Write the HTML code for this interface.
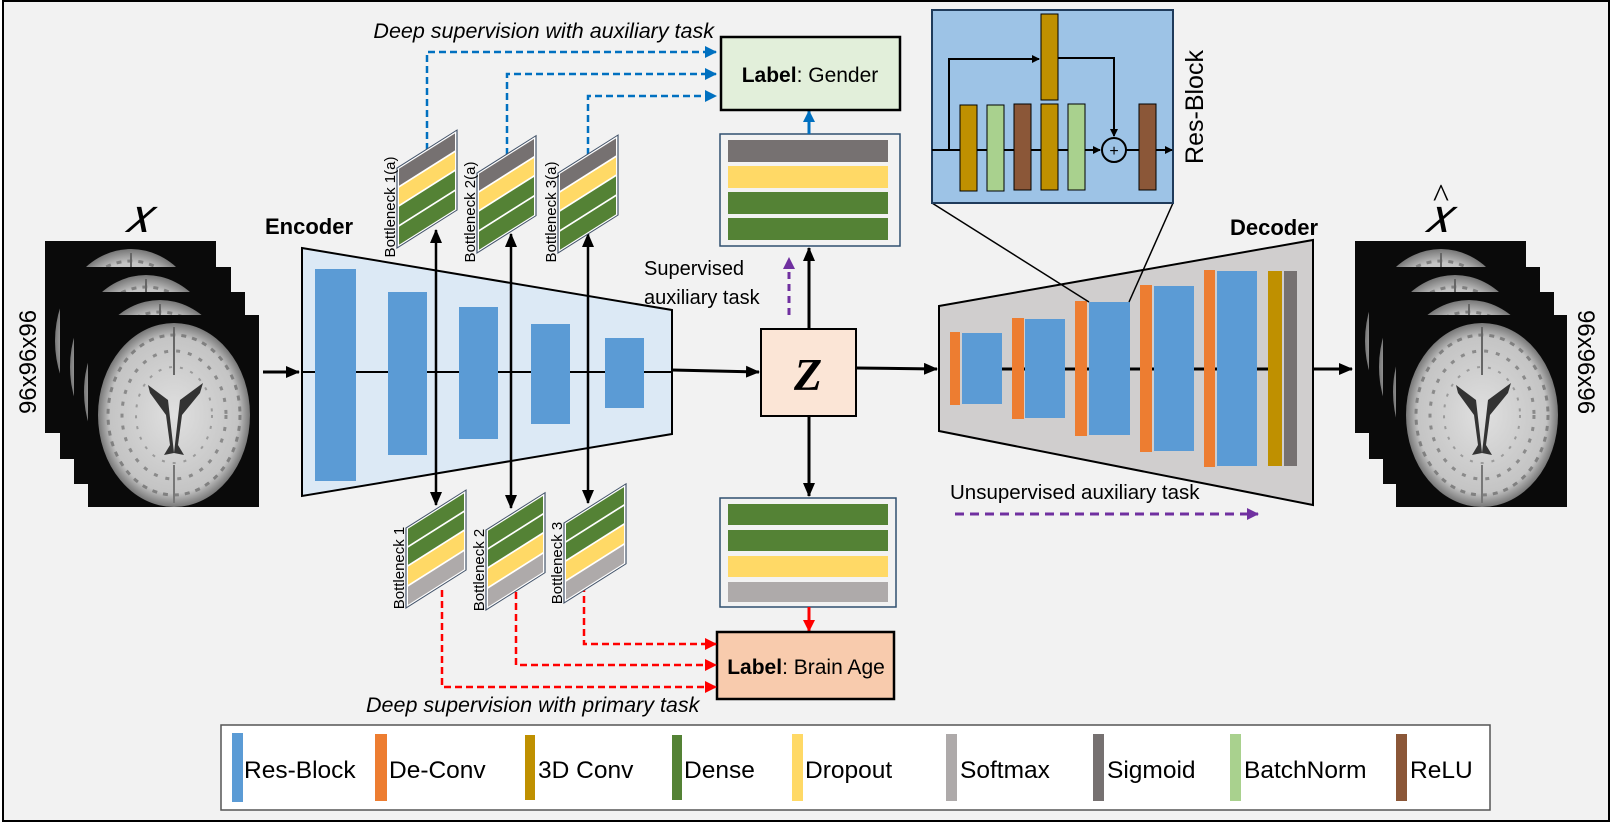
<!DOCTYPE html>
<html><head><meta charset="utf-8"><style>
html,body{margin:0;padding:0;background:#fff;}
svg{display:block;font-family:"Liberation Sans",sans-serif;}
</style></head><body>
<svg width="1613" height="824" viewBox="0 0 1613 824" xmlns="http://www.w3.org/2000/svg">
<defs>
<marker id="ab" markerWidth="8" markerHeight="8" refX="7" refY="4" orient="auto" markerUnits="userSpaceOnUse"><path d="M0,0 L8,4 L0,8 z" fill="#000"/></marker>
<marker id="abL" markerWidth="14" markerHeight="12" refX="13" refY="6" orient="auto-start-reverse" markerUnits="userSpaceOnUse"><path d="M0,0 L14,6 L0,12 z" fill="#000"/></marker>
<marker id="abl" markerWidth="12" markerHeight="12" refX="11" refY="6" orient="auto" markerUnits="userSpaceOnUse"><path d="M0,0 L12,6 L0,12 z" fill="#0070c0"/></marker>
<marker id="rd" markerWidth="12" markerHeight="12" refX="11" refY="6" orient="auto" markerUnits="userSpaceOnUse"><path d="M0,0 L12,6 L0,12 z" fill="#ff0000"/></marker>
<marker id="pp" markerWidth="12" markerHeight="12" refX="11" refY="6" orient="auto" markerUnits="userSpaceOnUse"><path d="M0,0 L12,6 L0,12 z" fill="#7030a0"/></marker>
<radialGradient id="br" cx="50%" cy="50%" r="50%"><stop offset="0" stop-color="#e0e0e0"/><stop offset="0.85" stop-color="#c4c4c4"/><stop offset="1" stop-color="#777"/></radialGradient>
<g id="brain">
<rect x="0" y="0" width="171" height="192" fill="#0a0a0a"/>
<ellipse cx="86" cy="100" rx="76" ry="92" fill="url(#br)"/>
<ellipse cx="86" cy="100" rx="66" ry="80" fill="none" stroke="#808080" stroke-width="3" stroke-dasharray="5 6"/>
<ellipse cx="86" cy="100" rx="52" ry="64" fill="none" stroke="#8a8a8a" stroke-width="3" stroke-dasharray="4 8"/>
<ellipse cx="86" cy="100" rx="38" ry="48" fill="none" stroke="#9a9a9a" stroke-width="2" stroke-dasharray="3 8"/>
<path d="M86,12 L86,60" stroke="#666" stroke-width="2"/>
<path d="M80,85 L60,70 L62,78 L78,100 L82,130 L76,140 L86,138 Z" fill="#333"/>
<path d="M92,85 L115,68 L112,78 L94,100 L90,130 L96,140 L86,138 Z" fill="#333"/>
<path d="M86,150 L86,188" stroke="#777" stroke-width="2"/>
</g>
</defs>
<rect x="0" y="0" width="1613" height="824" fill="#fff"/>
<rect x="3" y="1" width="1606" height="820" fill="#f2f2f2" stroke="#000" stroke-width="2"/>

<!-- Input brains -->
<use href="#brain" x="45" y="241"/>
<use href="#brain" x="60" y="267"/>
<use href="#brain" x="74" y="292"/>
<use href="#brain" x="88" y="315"/>
<text x="138" y="232" font-family="Liberation Serif,serif" font-style="italic" font-size="48" text-anchor="middle">𝑥</text>
<text transform="translate(36,362) rotate(-90)" font-size="24" text-anchor="middle">96x96x96</text>

<!-- Output brains -->
<use href="#brain" x="1355" y="241"/>
<use href="#brain" x="1369" y="267"/>
<use href="#brain" x="1383" y="292"/>
<use href="#brain" x="1396" y="315"/>
<text x="1438" y="232" font-family="Liberation Serif,serif" font-style="italic" font-size="48" text-anchor="middle">𝑥</text>
<text x="1441" y="207" font-family="Liberation Serif,serif" font-size="34" text-anchor="middle">^</text>
<text transform="translate(1578,362) rotate(90)" font-size="24" text-anchor="middle">96x96x96</text>

<line x1="263" y1="372" x2="299" y2="372" stroke="#000" stroke-width="3" marker-end="url(#abL)"/>

<!-- Encoder -->
<text x="265" y="234" font-size="22" font-weight="bold">Encoder</text>
<polygon points="302,248 672,310 672,434 302,496" fill="#dce9f5" stroke="#000" stroke-width="2"/>
<line x1="302" y1="372" x2="672" y2="372" stroke="#000" stroke-width="2"/>
<rect x="315" y="269" width="41" height="212" fill="#5b9bd5"/>
<rect x="388" y="292" width="39" height="163" fill="#5b9bd5"/>
<rect x="459" y="307" width="39" height="132" fill="#5b9bd5"/>
<rect x="531" y="324" width="39" height="100" fill="#5b9bd5"/>
<rect x="605" y="338" width="39" height="70" fill="#5b9bd5"/>

<line x1="672" y1="370" x2="759" y2="372" stroke="#000" stroke-width="3" marker-end="url(#abL)"/>

<!-- Z -->
<rect x="761" y="329" width="95" height="87" fill="#fbe5d6" stroke="#000" stroke-width="2"/>
<text x="808" y="390" font-family="Liberation Serif,serif" font-style="italic" font-weight="bold" font-size="46" text-anchor="middle">Z</text>
<line x1="856" y1="368" x2="937" y2="369" stroke="#000" stroke-width="3" marker-end="url(#abL)"/>
<line x1="809" y1="329" x2="809" y2="248" stroke="#000" stroke-width="3" marker-end="url(#abL)"/>
<line x1="809" y1="416" x2="809" y2="496" stroke="#000" stroke-width="3" marker-end="url(#abL)"/>

<!-- top feature box -->
<rect x="720" y="134" width="180" height="112" fill="#f2f2f2" stroke="#2f4f6f" stroke-width="1.5"/>
<rect x="728" y="140" width="160" height="22" fill="#767171"/>
<rect x="728" y="166" width="160" height="22" fill="#ffd966"/>
<rect x="728" y="192" width="160" height="22" fill="#548235"/>
<rect x="728" y="218" width="160" height="22" fill="#548235"/>
<line x1="809" y1="134" x2="809" y2="111" stroke="#0070c0" stroke-width="3" marker-end="url(#abl)"/>
<rect x="721" y="37" width="179" height="73" fill="#e2efda" stroke="#000" stroke-width="2.5"/>
<text x="810" y="82" font-size="21" text-anchor="middle"><tspan font-weight="bold">Label</tspan>: Gender</text>

<!-- bottom feature box -->
<rect x="720" y="498" width="176" height="109" fill="#f2f2f2" stroke="#2f4f6f" stroke-width="1.5"/>
<rect x="728" y="504" width="160" height="21" fill="#548235"/>
<rect x="728" y="530" width="160" height="21" fill="#548235"/>
<rect x="728" y="556" width="160" height="21" fill="#ffd966"/>
<rect x="728" y="582" width="160" height="20" fill="#aeaaaa"/>
<line x1="809" y1="607" x2="809" y2="631" stroke="#ff0000" stroke-width="3" marker-end="url(#rd)"/>
<rect x="717" y="632" width="177" height="67" fill="#f8cbad" stroke="#000" stroke-width="2.5"/>
<text x="806" y="674" font-size="21" text-anchor="middle"><tspan font-weight="bold">Label</tspan>: Brain Age</text>

<!-- supervised text -->
<text x="644" y="275" font-size="20">Supervised</text>
<text x="644" y="304" font-size="20">auxiliary task</text>
<line x1="789" y1="315" x2="789" y2="258" stroke="#7030a0" stroke-width="3" stroke-dasharray="7 5" marker-end="url(#pp)"/>

<!-- blue dashed -->
<g fill="none" stroke="#0070c0" stroke-width="2.5" stroke-dasharray="7 4">
<polyline points="427,150 427,52 716,52" marker-end="url(#abl)"/>
<polyline points="507,155 507,74 716,74" marker-end="url(#abl)"/>
<polyline points="588,155 588,96 716,96" marker-end="url(#abl)"/>
</g>
<text x="714" y="38" font-size="21.5" font-style="italic" text-anchor="end">Deep supervision with auxiliary task</text>

<!-- red dashed -->
<g fill="none" stroke="#ff0000" stroke-width="2.5" stroke-dasharray="7 4">
<polyline points="442,590 442,687 716,687" marker-end="url(#rd)"/>
<polyline points="516,592 516,665 716,665" marker-end="url(#rd)"/>
<polyline points="584,585 584,644 716,644" marker-end="url(#rd)"/>
</g>
<text x="366" y="712" font-size="21.5" font-style="italic">Deep supervision with primary task</text>

<!-- vertical double arrows -->
<g stroke="#000" stroke-width="2.5">
<line x1="436" y1="230" x2="436" y2="505" marker-start="url(#abL)" marker-end="url(#abL)"/>
<line x1="511" y1="234" x2="511" y2="508" marker-start="url(#abL)" marker-end="url(#abL)"/>
<line x1="588" y1="234" x2="588" y2="503" marker-start="url(#abL)" marker-end="url(#abL)"/>
</g>

<!-- top bottlenecks -->
<g transform="translate(397,168) skewY(-32.3)">
<rect x="0" y="0" width="60" height="80" fill="#fff" stroke="#44546a" stroke-width="1.2"/>
<rect x="2" y="2" width="56" height="17" fill="#767171"/><rect x="2" y="21" width="56" height="17" fill="#ffd966"/><rect x="2" y="40" width="56" height="18" fill="#548235"/><rect x="2" y="60" width="56" height="18" fill="#548235"/>
</g>
<g transform="translate(477,173) skewY(-32.3)">
<rect x="0" y="0" width="59" height="80" fill="#fff" stroke="#44546a" stroke-width="1.2"/>
<rect x="2" y="2" width="55" height="17" fill="#767171"/><rect x="2" y="21" width="55" height="17" fill="#ffd966"/><rect x="2" y="40" width="55" height="18" fill="#548235"/><rect x="2" y="60" width="55" height="18" fill="#548235"/>
</g>
<g transform="translate(558,173) skewY(-32.3)">
<rect x="0" y="0" width="60" height="80" fill="#fff" stroke="#44546a" stroke-width="1.2"/>
<rect x="2" y="2" width="56" height="17" fill="#767171"/><rect x="2" y="21" width="56" height="17" fill="#ffd966"/><rect x="2" y="40" width="56" height="18" fill="#548235"/><rect x="2" y="60" width="56" height="18" fill="#548235"/>
</g>
<text transform="translate(395,207) rotate(-90)" font-size="15" text-anchor="middle">Bottleneck 1(a)</text>
<text transform="translate(475,212) rotate(-90)" font-size="15" text-anchor="middle">Bottleneck 2(a)</text>
<text transform="translate(556,212) rotate(-90)" font-size="15" text-anchor="middle">Bottleneck 3(a)</text>

<!-- bottom bottlenecks -->
<g transform="translate(406,528) skewY(-32.3)">
<rect x="0" y="0" width="60" height="80" fill="#fff" stroke="#44546a" stroke-width="1.2"/>
<rect x="2" y="2" width="56" height="17" fill="#548235"/><rect x="2" y="21" width="56" height="17" fill="#548235"/><rect x="2" y="40" width="56" height="18" fill="#ffd966"/><rect x="2" y="60" width="56" height="18" fill="#aeaaaa"/>
</g>
<g transform="translate(486,530) skewY(-32.3)">
<rect x="0" y="0" width="59" height="80" fill="#fff" stroke="#44546a" stroke-width="1.2"/>
<rect x="2" y="2" width="55" height="17" fill="#548235"/><rect x="2" y="21" width="55" height="17" fill="#548235"/><rect x="2" y="40" width="55" height="18" fill="#ffd966"/><rect x="2" y="60" width="55" height="18" fill="#aeaaaa"/>
</g>
<g transform="translate(564,523) skewY(-32.3)">
<rect x="0" y="0" width="62" height="80" fill="#fff" stroke="#44546a" stroke-width="1.2"/>
<rect x="2" y="2" width="58" height="17" fill="#548235"/><rect x="2" y="21" width="58" height="17" fill="#548235"/><rect x="2" y="40" width="58" height="18" fill="#ffd966"/><rect x="2" y="60" width="58" height="18" fill="#aeaaaa"/>
</g>
<text transform="translate(404,568) rotate(-90)" font-size="15" text-anchor="middle">Bottleneck 1</text>
<text transform="translate(484,570) rotate(-90)" font-size="15" text-anchor="middle">Bottleneck 2</text>
<text transform="translate(562,563) rotate(-90)" font-size="15" text-anchor="middle">Bottleneck 3</text>

<!-- Decoder -->
<text x="1230" y="235" font-size="22" font-weight="bold">Decoder</text>
<polygon points="939,306 1313,240 1313,505 939,431" fill="#d0cece" stroke="#000" stroke-width="2"/>
<line x1="1000" y1="369" x2="1268" y2="369" stroke="#000" stroke-width="3"/>
<rect x="950" y="332" width="10" height="73" fill="#ed7d31"/><rect x="962" y="333" width="40" height="71" fill="#5b9bd5"/>
<rect x="1012" y="318" width="12" height="101" fill="#ed7d31"/><rect x="1025" y="319" width="40" height="99" fill="#5b9bd5"/>
<rect x="1075" y="301" width="12" height="135" fill="#ed7d31"/><rect x="1089" y="302" width="41" height="133" fill="#5b9bd5"/>
<rect x="1140" y="285" width="12" height="167" fill="#ed7d31"/><rect x="1154" y="286" width="40" height="165" fill="#5b9bd5"/>
<rect x="1204" y="270" width="11" height="197" fill="#ed7d31"/><rect x="1217" y="271" width="40" height="195" fill="#5b9bd5"/>
<rect x="1268" y="271" width="14" height="195" fill="#bf9000"/><rect x="1284" y="271" width="13" height="195" fill="#767171"/>
<line x1="1313" y1="369" x2="1352" y2="369" stroke="#000" stroke-width="3" marker-end="url(#abL)"/>

<text x="950" y="499" font-size="20.5">Unsupervised auxiliary task</text>
<line x1="955" y1="514" x2="1258" y2="514" stroke="#7030a0" stroke-width="3" stroke-dasharray="9 6" marker-end="url(#pp)"/>

<!-- Res-block inset -->
<line x1="932" y1="203" x2="1089" y2="302" stroke="#000" stroke-width="1.5"/>
<line x1="1173" y1="203" x2="1129" y2="302" stroke="#000" stroke-width="1.5"/>
<rect x="932" y="10" width="241" height="193" fill="#9dc3e6" stroke="#1f3b5b" stroke-width="2"/>
<line x1="932" y1="150" x2="1100" y2="150" stroke="#000" stroke-width="2" marker-end="url(#ab)"/>
<polyline points="949,150 949,59 1039,59" fill="none" stroke="#000" stroke-width="2" marker-end="url(#ab)"/>
<polyline points="1058,58 1114,58 1114,136" fill="none" stroke="#000" stroke-width="2" marker-end="url(#ab)"/>
<rect x="1041" y="14" width="17" height="86" fill="#bf9000" stroke="#000"/>
<rect x="960" y="105" width="17" height="86" fill="#bf9000" stroke="#000"/>
<rect x="987" y="105" width="17" height="86" fill="#a9d18e" stroke="#000"/>
<rect x="1014" y="104" width="17" height="86" fill="#8b5738" stroke="#000"/>
<rect x="1041" y="104" width="17" height="86" fill="#bf9000" stroke="#000"/>
<rect x="1068" y="104" width="17" height="86" fill="#a9d18e" stroke="#000"/>
<circle cx="1114" cy="150" r="12" fill="#9dc3e6" stroke="#000" stroke-width="2"/>
<text x="1114" y="156" font-size="16" text-anchor="middle">+</text>
<line x1="1126" y1="150" x2="1172" y2="150" stroke="#000" stroke-width="2" marker-end="url(#ab)"/>
<rect x="1139" y="104" width="17" height="86" fill="#8b5738" stroke="#000"/>
<text transform="translate(1203,107) rotate(-90)" font-size="25" text-anchor="middle">Res-Block</text>

<!-- Legend -->
<rect x="221" y="725" width="1269" height="85" fill="#fff" stroke="#555" stroke-width="1.5"/>
<g font-size="24.5">
<rect x="232" y="733" width="11" height="69" fill="#5b9bd5"/><text x="244" y="778">Res-Block</text>
<rect x="375" y="734" width="12" height="67" fill="#ed7d31"/><text x="389" y="778">De-Conv</text>
<rect x="525" y="735" width="10" height="65" fill="#bf9000"/><text x="538" y="778">3D Conv</text>
<rect x="672" y="735" width="10" height="65" fill="#548235"/><text x="684" y="778">Dense</text>
<rect x="792" y="734" width="11" height="67" fill="#ffd966"/><text x="805" y="778">Dropout</text>
<rect x="946" y="734" width="11" height="67" fill="#aeaaaa"/><text x="960" y="778">Softmax</text>
<rect x="1093" y="734" width="11" height="67" fill="#767171"/><text x="1107" y="778">Sigmoid</text>
<rect x="1230" y="734" width="11" height="67" fill="#a9d18e"/><text x="1244" y="778">BatchNorm</text>
<rect x="1396" y="734" width="11" height="67" fill="#8b5738"/><text x="1410" y="778">ReLU</text>
</g>
</svg>
</body></html>
